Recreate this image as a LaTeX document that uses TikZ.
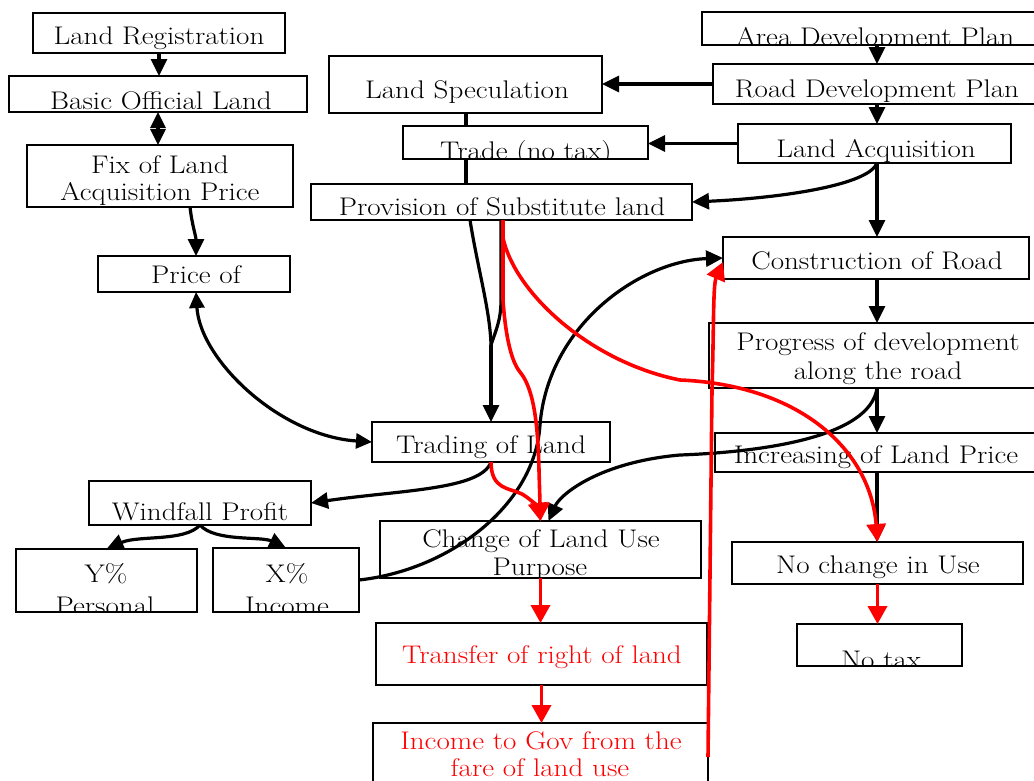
\documentclass[tikz,border=0pt]{standalone}
\usepackage{graphicx}
\usetikzlibrary{arrows.meta}
% slightly widened glyphs for the box labels
\newcommand\wide[1]{\scalebox{1.14}[1]{#1}}
\tikzset{
  box/.style={draw, line width=1.6pt, inner sep=0pt, outer sep=0pt},
  lbl/.style={inner sep=0pt, font=\fontsize{25.5}{27}\selectfont},
  redlbl/.style={lbl, text=red},
  line/.style={line width=3.2pt},
  conn/.style={line width=3.2pt, -{Triangle[length=17pt,width=16pt]}},
  both/.style={line width=3.2pt, {Triangle[length=16pt,width=15pt]}-{Triangle[length=16pt,width=15pt]}},
  rline/.style={red, line width=3.6pt},
  rconn/.style={red, line width=3.6pt, -{Triangle[length=18pt,width=19pt]}},
}
% \bx{name}{x1}{y1}{x2}{y2}: empty framed box
\newcommand\bx[5]{\node[box, minimum width={(#4-#2)*1pt}, minimum height={(#5-#3)*1pt}] (#1) at ({(#2+#4)/2},{(#3+#5)/2}) {};}
% \tx[style]{box}{name}{x,baseline}{text}: label clipped to its box
\newcommand\tx[5][lbl]{\begin{scope}\clip (#2.south west) rectangle (#2.north east);\node[#1, anchor=base] (#3) at (#4) {\wide{#5}};\end{scope}}
\begin{document}
\begin{tikzpicture}[x=1pt, y=-1pt]
\useasboundingbox (0,0) rectangle (1034,780);

% ---- left column
\bx{lreg}{33}{13}{285}{53}
\tx{lreg}{lregT}{159,44}{Land Registration}
\bx{basic}{9}{76}{307}{112}
\tx{basic}{basicT}{161,109}{Basic Official Land}
\bx{fix}{27}{145}{293}{207}
\tx{fix}{fixA}{160,173}{Fix of Land}
\tx{fix}{fixB}{160,200}{Acquisition Price}
\bx{price}{98}{256}{290}{292}
\tx{price}{priceT}{196,283}{Price of}

% ---- middle column
\bx{spec}{329}{56}{602}{113}
\tx{spec}{specT}{467,98}{Land Speculation}
\bx{trade}{403}{126}{648}{159}
\tx{trade}{tradeT}{526,159}{Trade (no tax)}
\bx{prov}{311}{184}{692}{220}
\tx{prov}{provT}{502,215}{Provision of Substitute land}
\bx{trad}{372}{422}{610}{462}
\tx{trad}{tradT}{491,453}{Trading of Land}
\bx{chg}{380}{521}{701}{578}
\tx{chg}{chgA}{541,547}{Change of Land Use}
\tx{chg}{chgB}{540,575}{Purpose}
\bx{trans}{376}{623}{707}{685}
\tx[redlbl]{trans}{transT}{542,663}{Transfer of right of land}
\bx{inc}{373}{723}{708}{800}
\tx[redlbl]{inc}{incA}{541,749}{Income to Gov from the}
\tx[redlbl]{inc}{incB}{540,776}{fare of land use}

% ---- windfall split
\bx{wind}{89}{481}{311}{525}
\tx{wind}{windT}{200,520}{Windfall Profit}
\bx{ypc}{16}{549}{197}{612}
\tx{ypc}{ypcA}{106,582}{Y\%}
\tx{ypc}{ypcB}{105,614}{Personal}
\bx{xinc}{213}{548}{359}{612}
\tx{xinc}{xincA}{287,582}{X\%}
\tx{xinc}{xincB}{287,614}{Income}

% ---- right column
\bx{area}{702}{12}{1040}{45}
\tx{area}{areaT}{875,45}{Area Development Plan}
\bx{road}{713}{64}{1040}{104}
\tx{road}{roadT}{877,97}{Road Development Plan}
\bx{acq}{738}{124}{1011}{163}
\tx{acq}{acqT}{876,157}{Land Acquisition}
\bx{cons}{723}{237}{1029}{279}
\tx{cons}{consT}{877,269}{Construction of Road}
\bx{prog}{709}{323}{1040}{388}
\tx{prog}{progA}{878,350}{Progress of development}
\tx{prog}{progB}{878,379}{along the road}
\bx{incr}{715}{433}{1040}{472}
\tx{incr}{incrT}{876,463}{Increasing of Land Price}
\bx{noch}{732}{542}{1023}{584}
\tx{noch}{nochT}{878,573}{No change in Use}
\bx{notax}{797}{624}{962}{666}
\tx{notax}{notaxT}{881,668}{No tax}

% ---- guide coordinates
\coordinate (col) at (877,0);
\coordinate (spine) at (466,0);
\coordinate (merge) at (491,345);
\coordinate (fork) at (503,238);
\coordinate (redfoot) at (708,757);

% ---- black connectors, left
\draw[conn] (lreg.south) -- (lreg.south |- basic.north);
\draw[both] (basic.south) -- (basic.south |- fix.north);
\draw[conn] ([xshift=30pt]fix.south) .. controls +(2,18) and +(0,-20) .. ([xshift=2pt]price.north);
\draw[both] ([xshift=2pt]price.south) .. controls +(4,68) and +(-92,-6) .. (trad.west);

% ---- black connectors, right column
\draw[conn] (area.south -| col) -- (road.north -| col);
\draw[conn] (road.south -| col) -- (acq.north -| col);
\draw[conn] (acq.south -| col) -- (cons.north -| col);
\draw[conn] (cons.south -| col) -- (prog.north -| col);
\draw[conn] (prog.south -| col) -- (incr.north -| col);
\draw[conn] (incr.south -| col) -- (noch.north -| col);
\draw[conn] (road.west) -- (road.west -| spec.east);
\draw[conn] (acq.west) -- (acq.west -| trade.east);
\draw[conn] (acq.south -| col) .. controls +(-8,22) and +(90,-4) .. (prov.east);

% ---- black connectors, middle
\draw[line] (spec.south -| spine) -- (trade.north -| spine);
\draw[line] (trade.south -| spine) -- (prov.north -| spine);
\draw[line] ([xshift=-31.5pt]prov.south) .. controls +(8,50) and +(-1,-35) .. (merge);
\draw[line] ([xshift=-0.5pt]prov.south) -- +(0,80) .. controls +(0,20) and +(5,-15) .. (merge);
\draw[conn] (merge) -- (merge |- trad.north);
\draw[conn] (xinc.east) .. controls +(91,-10) and +(-5,80) .. (540,425)
  .. controls +(8,-100) and +(-83,3) .. (cons.west);
\draw[conn] (prog.south -| col) .. controls +(-7,50) and +(80,-3) .. (680,455)
  .. controls +(-80,7) and +(12,-27) .. ([xshift=8pt]chg.north);
\draw[conn] (trad.south) .. controls +(-10,28) and +(89,-13) .. (wind.east);
\draw[conn] (wind.south) .. controls +(-15,17) and +(32,-14) .. (ypc.north);
\draw[conn] (wind.south) .. controls +(15,17) and +(-25,-12) .. (xinc.north);

% ---- red connectors
\draw[rline] ([xshift=1.5pt]prov.south) -- (fork);
\draw[rconn] (fork) -- (503,300) .. controls (505,330) and (510,360) .. (520,372)
  .. controls (535,390) and (538,430) .. (539,470) -- (chg.north);
\draw[rconn] (fork) .. controls +(12,55) and +(-90,-18) .. (680,380)
  .. controls +(120,5) and +(-7,-92) .. (noch.north);
\draw[rconn] (trad.south) .. controls +(0,28) and +(-12,-6) .. (522,494)
  .. controls +(10,6) and +(-2,-13) .. (chg.north);
\draw[rconn] (chg.south) -- (chg.south |- trans.north);
\draw[rconn] (trans.south) -- (trans.south |- inc.north);
\draw[rconn] (noch.south) -- (noch.south |- notax.north);
\draw[rconn] (redfoot) -- (712,390) .. controls (714,320) and (713,285) .. ([yshift=-4pt]cons.west);
\end{tikzpicture}
\end{document}
